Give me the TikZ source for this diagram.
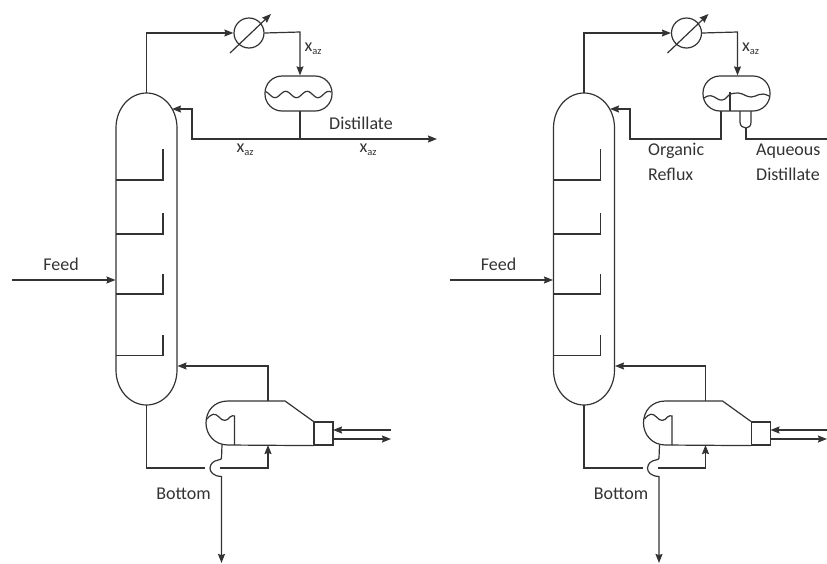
\documentclass[tikz,border=0pt]{standalone}
\usepackage{fontspec}
\setmainfont{Carlito}
\usetikzlibrary{arrows.meta,calc}
\definecolor{ink}{HTML}{333333}
\newcommand{\xaz}{x\raisebox{-3pt}{\fontsize{10.5}{10.5}\selectfont az}}
\tikzset{
  line/.style={draw=ink,line width=1.2pt,line join=miter},
  flow/.style={line,-{Stealth[length=9pt,width=7pt,inset=1pt]}},
  lab/.style={text=ink,font=\fontsize{18}{20}\selectfont,inner sep=0pt},
  labl/.style={lab,anchor=west},
  cooler/.style={circle,line,minimum size=30pt,inner sep=0pt},
  drum/.style={line,rounded corners=17pt,minimum width=67pt,minimum height=35pt,inner sep=0pt},
  boxr/.style={line,minimum width=19pt,minimum height=23pt,inner sep=0pt}
}
% common column, condenser, reboiler. #1 = name prefix, #2 = right end of the utility lines
\newcommand{\tower}[2]{
  \coordinate (#1top) at (146.5,93);
  \coordinate (#1bot) at (146.5,405);
  \draw[line] (116,128) .. controls (116,108) and (130,93) .. (#1top)
     .. controls (163,93) and (177,108) .. (177,128) -- (177,370)
     .. controls (177,390) and (163,405) .. (#1bot)
     .. controls (130,405) and (116,390) .. (116,370) -- cycle;
  \foreach \ty/\wy in {180/149,234/213,294/274,355.5/335}{
    \draw[line] (116,\ty) -- (163,\ty) -- (163,\wy);
  }
  \node[lab] (#1feedlab) at (61,264) {Feed};
  \coordinate (#1feedin) at (12,280);
  \coordinate (#1feedto) at (115.5,280);
  \draw[flow] (#1feedin) -- (#1feedto);
  \node[cooler] (#1cond) at (249,33) {};
  \coordinate (#1ca) at (230,53);
  \coordinate (#1cb) at (271,14);
  \draw[flow] (#1ca) -- (#1cb);
  \draw[flow] (#1top) |- (#1cond.west);
  % reboiler
  \coordinate (#1rbtop) at (268,401);
  \coordinate (#1rbin) at (268,445);
  \coordinate (#1rbout) at (222,445);
  \node[boxr] (#1rbbox) at (323.5,433.5) {};
  \draw[line] (#1rbbox.south west) -- (228,445)
     .. controls (214,445) and (206,434) .. (206,423)
     .. controls (206,411) and (214,401) .. (228,401) -- (285,401) -- (#1rbbox.north west);
  \draw[line] (207,419) .. controls (212,413) and (215,413) .. (219,417)
     .. controls (223,422) and (227,421) .. (230,417) .. controls (232,415) and (233,416) .. (234.5,416)
     -- (234.5,445);
  \coordinate (#1ret) at (177.5,366);
  \draw[flow] (#1rbtop) |- (#1ret);
  \coordinate (#1hin) at (#2,430);
  \coordinate (#1hout) at (#2,439);
  \coordinate (#1hb) at (333,430);
  \coordinate (#1hc) at (333,439);
  \draw[flow] (#1hin) -- (#1hb);
  \draw[flow] (#1hc) -- (#1hout);
  \coordinate (#1jl) at (205,468);
  \coordinate (#1jr) at (220,468);
  \coordinate (#1bend) at (221.5,563);
  \draw[line] (#1bot) |- (#1jl);
  \draw[flow] (#1jr) -| (#1rbin);
  \draw[flow] (#1rbout) -- (221.5,458) .. controls (221.5,460) and (218,459.5) .. (215,461)
     .. controls (211,463) and (210,466) .. (210,468) .. controls (210,472) and (213,476) .. (221.5,476.5)
     -- (#1bend);
  \node[lab] (#1botlab) at (183.5,494) {Bottom};
}
\begin{document}
\begin{tikzpicture}[x=1pt,y=-1pt]
\useasboundingbox (0,0) rectangle (827,563);
\clip (0,0) rectangle (827,563);
% left column
\begin{scope}
  \tower{L}{391}
  \node[drum] (Ldrum) at (298.5,93.5) {};
  \draw[line] plot[smooth,domain=0:65,samples=40] ({266+\x},{94.5+3.2*sin(\x/21.5*360-60)});
  \draw[flow] (Lcond.east) -- (300,32) -- (Ldrum.north -| 300,32);
  \coordinate (Ltee) at (300,139);
  \coordinate (Lprod) at (437,139);
  \coordinate (Lrefl) at (172,109);
  \draw[line] (300,111) -- (Ltee);
  \draw[flow] (Ltee) -- (Lprod);
  \draw[flow] (Ltee) -- (192,139) |- (Lrefl);
  \node[lab] (Lx1) at (313,49) {\xaz};
  \node[lab] (Ldist) at (361,123) {Distillate};
  \node[lab] (Lx2) at (245,149.5) {\xaz};
  \node[lab] (Lx3) at (368,149.5) {\xaz};
\end{scope}
% right column
\begin{scope}[xshift=437.5pt]
  \tower{R}{389.5}
  \node[drum] (Rdrum) at (299,93.5) {};
  \draw[flow] (Rcond.east) -- (300,32) -- (Rdrum.north -| 300,32);
  \node[lab] (Rx1) at (313,49) {\xaz};
\end{scope}
\draw[line] (704,98) .. controls (709,94) and (713,96) .. (716,98) .. controls (720,101) and (724,101) .. (727,97)
   .. controls (729,94) and (733,93) .. (738,93) .. controls (743,93) and (746,97) .. (751,97)
   .. controls (757,97) and (760,91) .. (769,96);
\coordinate (Rbaf) at (730,92);
\draw[line] (Rbaf) -- (730,111);
\coordinate (Rs1) at (721,111);
\coordinate (Rs2) at (630,139);
\coordinate (Rrefl) at (610,109);
\draw[flow] (Rs1) -- (721,139) -- (Rs2) |- (Rrefl);
\coordinate (Rbootb) at (746,128);
\draw[line] (740,111) -- (740,122) .. controls (740,126) and (743,128) .. (Rbootb)
   .. controls (749,128) and (751,126) .. (751,122) -- (751,111);
\coordinate (Raq) at (827,139);
\draw[line] (Rbootb) |- (Raq);
\node[labl] (Rorg) at (648,151) {Organic};
\node[labl] (Rrefx) at (648,174) {Reflux};
\node[labl] (Raqu) at (756,151) {Aqueous};
\node[labl] (Rdis) at (756,174) {Distillate};
\end{tikzpicture}
\end{document}
